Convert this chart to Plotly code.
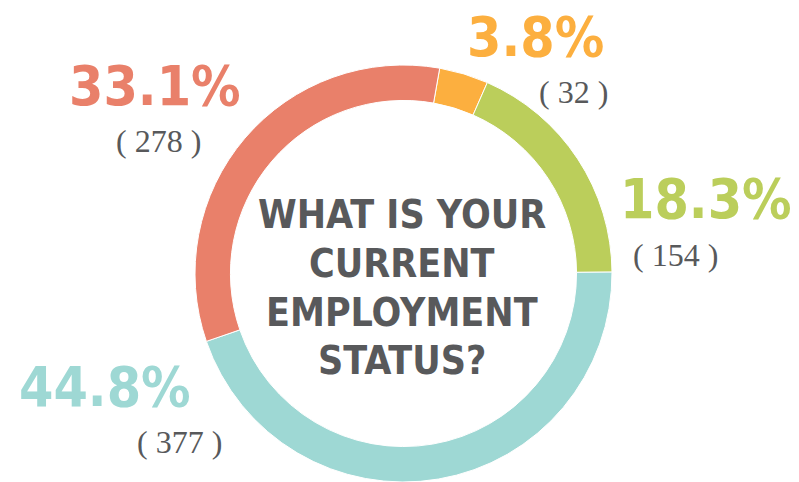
import plotly.graph_objects as go

# ---- data ----
pct_labels = ["3.8%", "18.3%", "44.8%", "33.1%"]
counts = [32, 154, 377, 278]
colors = ["#FCAF3F", "#BBCE5B", "#9ED8D4", "#E9806A"]
title_lines = ["WHAT IS YOUR", "CURRENT", "EMPLOYMENT", "STATUS?"]

W, H = 799, 482
TEXT_GRAY = "#58595B"

fig = go.Figure()
fig.add_trace(go.Pie(
    labels=pct_labels,
    values=counts,
    marker=dict(colors=colors, line=dict(color="white", width=1)),
    hole=0.83,
    sort=False,
    direction="clockwise",
    rotation=10,
    textinfo="none",
    hoverinfo="label+value",
    showlegend=False,
    domain=dict(x=[(403.5 - 209) / W, (403.5 + 209) / W], y=[0.0, 417 / H]),
))

def px(x, y):
    return x / W, 1 - y / H

# positions (pixel centres) for percentage and count labels
pct_pos = [(535, 37), (706, 199), (105, 387), (155, 86)]
cnt_pos = [(573, 92), (675, 255), (179, 442), (158, 141)]

ann = []
for lab, c, col, (x1, y1), (x2, y2) in zip(pct_labels, counts, colors, pct_pos, cnt_pos):
    ax, ay = px(x1, y1)
    ann.append(dict(x=ax, y=ay, xref="paper", yref="paper", text=lab, showarrow=False,
                    xanchor="center", yanchor="middle",
                    font=dict(family="DejaVu Sans Condensed, DejaVu Sans, sans-serif",
                              size=55, color=col, weight="bold")))
    bx, by = px(x2, y2)
    ann.append(dict(x=bx, y=by, xref="paper", yref="paper", text=f"( {c} )", showarrow=False,
                    xanchor="center", yanchor="middle",
                    font=dict(family="Liberation Serif, DejaVu Serif, serif", size=32, color=TEXT_GRAY)))

title_y = [215, 263, 312, 360]
for line, ty in zip(title_lines, title_y):
    tx, tyy = px(402, ty)
    ann.append(dict(x=tx, y=tyy, xref="paper", yref="paper", text=line, showarrow=False,
                    xanchor="center", yanchor="middle",
                    font=dict(family="DejaVu Sans Condensed, DejaVu Sans, sans-serif",
                              size=39, color=TEXT_GRAY, weight="bold")))

fig.update_layout(
    width=W, height=H,
    margin=dict(l=0, r=0, t=0, b=0),
    paper_bgcolor="white", plot_bgcolor="white",
    annotations=ann,
)

fig.write_html(
    "out.html",
    config={"displayModeBar": False},
    post_script="document.body.style.margin='0';document.body.style.overflow='hidden';",
)
